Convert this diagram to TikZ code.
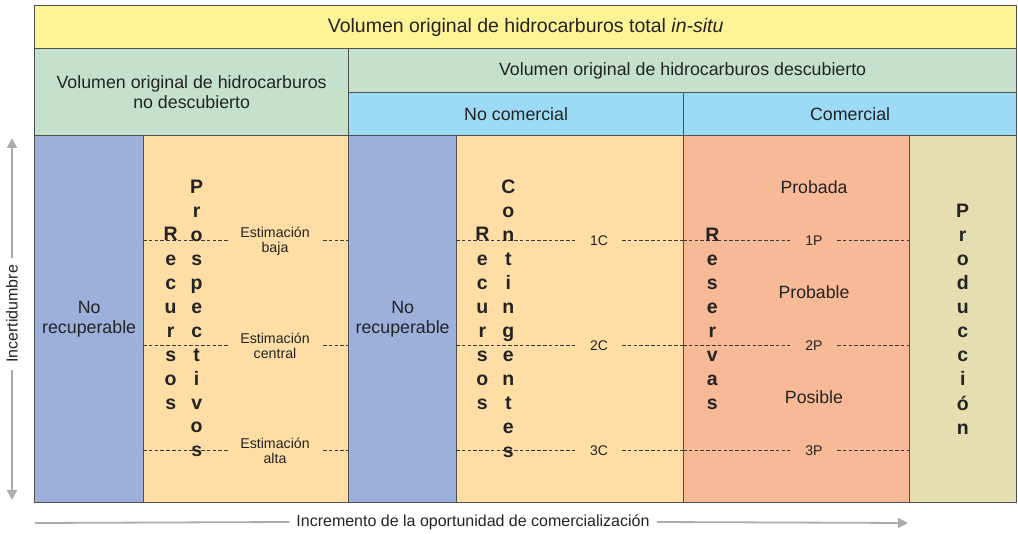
\documentclass[tikz,border=0pt]{standalone}
\usepackage{fontspec}
\setmainfont{Liberation Sans}
\usetikzlibrary{arrows.meta}
\definecolor{cYellow}{RGB}{254,244,150}
\definecolor{cGreen}{RGB}{197,225,203}
\definecolor{cLBlue}{RGB}{157,218,245}
\definecolor{cBlue}{RGB}{157,176,219}
\definecolor{cOrange}{RGB}{255,222,166}
\definecolor{cSalmon}{RGB}{248,186,150}
\definecolor{cBeige}{RGB}{228,222,176}
\definecolor{cBorder}{RGB}{80,80,80}
\definecolor{cText}{RGB}{35,35,35}
\definecolor{cArrow}{RGB}{172,172,172}
\begin{document}
\begin{tikzpicture}[x=1pt,y=-1pt,
  every node/.style={text=cText},
  cell/.style={draw=cBorder, line width=1.3pt, inner sep=0pt, anchor=north west, align=center},
  bodytext/.style={font=\fontsize{17.8}{19.5}\selectfont},
  vletter/.style={font=\bfseries\fontsize{19.5}{20}\selectfont, anchor=base, inner sep=0pt},
  est/.style={font=\fontsize{14.2}{14.7}\selectfont, align=center, inner sep=0pt},
  lvl/.style={font=\fontsize{14}{15}\selectfont, inner sep=0pt},
  cat/.style={font=\fontsize{17.7}{19}\selectfont, anchor=base, inner sep=0pt},
  dl/.style={draw=cText!90, line width=0.9pt, dash pattern=on 3.6pt off 2.2pt},
  gline/.style={draw=cArrow, line width=1.8pt},
  garr/.style={gline, -{Triangle[length=10pt,width=10pt]}},
  axislbl/.style={font=\fontsize{16}{17}\selectfont, inner sep=7pt}
]
\useasboundingbox (0,0) rectangle (1018,534);

% header cells
\node[cell, fill=cYellow, minimum width=982pt, minimum height=43pt, font=\fontsize{19.5}{21}\selectfont] (head) at (34,5)
  {Volumen original de hidrocarburos total \textit{in-situ}};
\node[cell, fill=cGreen, minimum width=314pt, minimum height=87pt, bodytext] (undisc) at (34,48)
  {Volumen original de hidrocarburos\\no descubierto};
\node[cell, fill=cGreen, minimum width=668pt, minimum height=44pt, bodytext] (disc) at (348,48)
  {Volumen original de hidrocarburos descubierto};
\node[cell, fill=cLBlue, minimum width=335pt, minimum height=43pt, bodytext] (nocom) at (348,92) {No comercial};
\node[cell, fill=cLBlue, minimum width=333pt, minimum height=43pt, bodytext] (com) at (683,92) {Comercial};

% columns
\node[cell, fill=cBlue, minimum width=109pt, minimum height=367pt, bodytext] (nr1) at (34,135) {No\\recuperable};
\node[cell, fill=cOrange, minimum width=205pt, minimum height=367pt] (pros) at (143,135) {};
\node[cell, fill=cBlue, minimum width=108pt, minimum height=367pt, bodytext] (nr2) at (348,135) {No\\recuperable};
\node[cell, fill=cOrange, minimum width=227pt, minimum height=367pt] (cont) at (456,135) {};
\node[cell, fill=cSalmon, minimum width=226pt, minimum height=367pt] (res) at (683,135) {};
\node[cell, fill=cBeige, minimum width=107pt, minimum height=367pt] (prod) at (909,135) {};

% dashed levels
\foreach \y/\k in {240/1,345/2,450/3}{
  \draw[dl] (143,\y) -- (228,\y);
  \draw[dl] (323,\y) -- (348,\y);
  \draw[dl] (456,\y) -- (575,\y);
  \draw[dl] (622,\y) -- (683,\y);
  \draw[dl] (683,\y) -- (790,\y);
  \draw[dl] (837,\y) -- (909,\y);
  \node[lvl] (c\k) at (599,\y+1) {\k C};
  \node[lvl] (p\k) at (814,\y+1) {\k P};
}
\node[est] (e1) at (275,241) {Estimación\\baja};
\node[est] (e2) at (275,346) {Estimación\\central};
\node[est] (e3) at (275,451) {Estimación\\alta};

% category labels
\node[cat] (probada) at (814,193.3) {Probada};
\node[cat] (probable) at (814,298.3) {Probable};
\node[cat] (posible) at (814,403.3) {Posible};

% vertical words
\foreach \c [count=\i] in {R,e,c,u,r,s,o,s}
  \node[vletter] (ra\i) at (170.7,241+24.1*\i-24.1) {\c};
\foreach \c [count=\i] in {P,r,o,s,p,e,c,t,i,v,o,s}
  \node[vletter] (pa\i) at (196.7,193.5+23.95*\i-23.95) {\c};
\foreach \c [count=\i] in {R,e,c,u,r,s,o,s}
  \node[vletter] (rb\i) at (482.3,241+24.1*\i-24.1) {\c};
\foreach \c [count=\i] in {C,o,n,t,i,n,g,e,n,t,e,s}
  \node[vletter] (cb\i) at (508.3,193.3+24*\i-24) {\c};
\foreach \c [count=\i] in {R,e,s,e,r,v,a,s}
  \node[vletter] (rv\i) at (712.3,241.7+24*\i-24) {\c};
\foreach \c [count=\i] in {P,r,o,d,u,c,c,i,ó,n}
  \node[vletter] (pr\i) at (962.7,217.3+24.1*\i-24.1) {\c};

% axes
\coordinate (uTop) at (12,138);
\coordinate (uBot) at (12,500);
\node[axislbl, rotate=90] (inc) at (12,314) {Incertidumbre};
\draw[garr] (inc.east) -- (uTop);
\draw[garr] (inc.west) -- (uBot);

\coordinate (cL) at (35,523);
\coordinate (cR) at (908,523);
\node[axislbl] (incr) at (473,522) {Incremento de la oportunidad de comercialización};
\draw[gline] (incr.west) -- (cL);
\draw[garr] (incr.east) -- (cR);
\end{tikzpicture}
\end{document}
